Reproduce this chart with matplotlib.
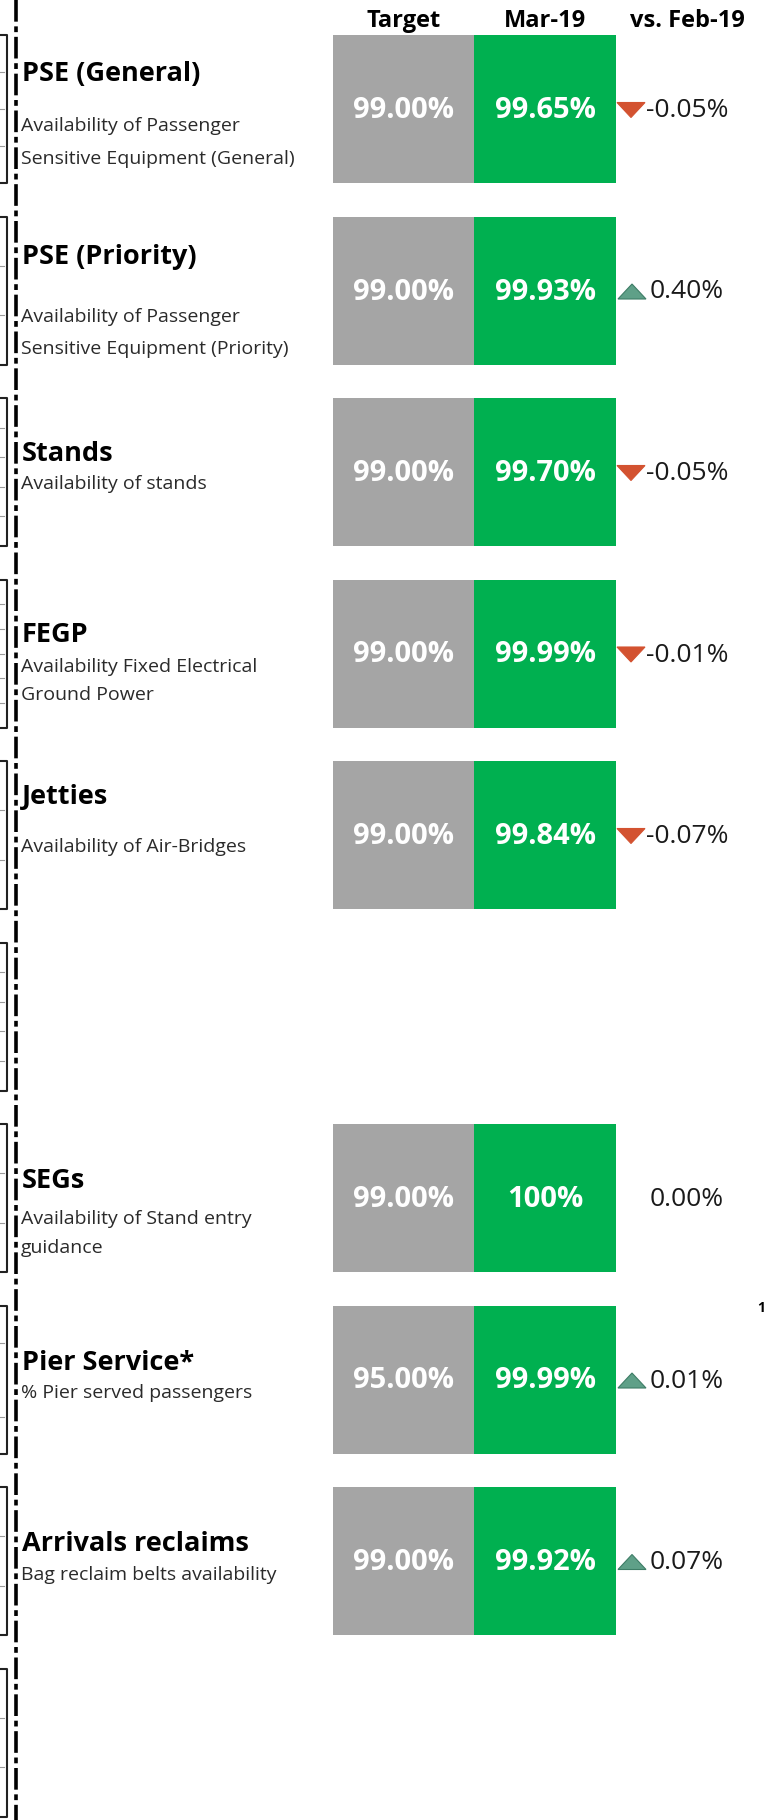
import matplotlib.pyplot as plt
from matplotlib.patches import Polygon

# metric rows (slot = row position on the page, slots 5 and 9 are empty)
titles = ['PSE (General)', 'PSE (Priority)', 'Stands', 'FEGP', 'Jetties',
          'SEGs', 'Pier Service*', 'Arrivals reclaims']
subtitles = [['Availability of Passenger', 'Sensitive Equipment (General)'],
             ['Availability of Passenger', 'Sensitive Equipment (Priority)'],
             ['Availability of stands'],
             ['Availability Fixed Electrical', 'Ground Power'],
             ['Availability of Air-Bridges'],
             ['Availability of Stand entry', 'guidance'],
             ['% Pier served passengers'],
             ['Bag reclaim belts availability']]
target = [99.00, 99.00, 99.00, 99.00, 99.00, 99.00, 95.00, 99.00]
mar19 = [99.65, 99.93, 99.70, 99.99, 99.84, 100.0, 99.99, 99.92]
vs_feb19 = [-0.05, 0.40, -0.05, -0.01, -0.07, 0.00, 0.01, 0.07]
headers = ['Target', 'Mar-19', 'vs. Feb-19']

slots = [0, 1, 2, 3, 4, 6, 7, 8]

# layout (pixels)
top0, pitch, box_h = 35, 181.5, 148
title_dy = [37, 38, 54, 54, 34, 55, 56, 55]
sub_dy = [89, 98, 84, 85, 84, 93, 86, 86]
sub_gap = [33, 32, 30, 29, 30, 29, 30, 30]
bracket_ticks = [[1/4, 2/4, 3/4], [1/3, 2/3], [i/5 for i in range(1, 5)],
                 [i/6 for i in range(1, 6)], [1/3, 2/3], [i/5 for i in range(1, 5)],
                 [1/3, 2/3], [1/4, 3/4], [1/3, 2/3], [1/3, 2/3]]

GRAY = '#A5A5A5'
GREEN = '#00B050'
DOWN = '#D35230'
UP = '#5FA088'

plt.rcParams['font.family'] = ['Open Sans', 'DejaVu Sans']

fig = plt.figure(figsize=(7.64, 18.2), dpi=100)
ax = fig.add_axes([0, 0, 1, 1])
ax.set_xlim(0, 764)
ax.set_ylim(1820, 0)
ax.axis('off')

# dash-dot divider
ax.plot([16, 16], [0, 1820], color='black', lw=2.6,
        dashes=(6.0, 1.3, 1.6, 1.3), solid_capstyle='butt')

# cropped brackets at the far left
for r in range(10):
    t = top0 + r * pitch
    b = t + box_h
    ax.plot([0, 7, 7, 0], [t, t, b, b], color='#222222', lw=1.5)
    for f in bracket_ticks[r]:
        yy = t + f * box_h
        ax.plot([0, 3.5], [yy, yy], color='#9A9A9A', lw=0.8)

# header
for x, h in zip([403.5, 545, 687], headers):
    ax.text(x, 27, h, ha='center', va='baseline', fontsize=17,
            fontweight='bold', color='black')

tops = [top0 + s * pitch for s in slots]
centers = [t + box_h / 2 for t in tops]

ax.barh(centers, 141, left=333, height=box_h, color=GRAY, edgecolor='none')
ax.barh(centers, 142, left=474, height=box_h, color=GREEN, edgecolor='none')

for i, t in enumerate(tops):
    # labels on the left
    ax.text(22, t + title_dy[i] + 9, titles[i], ha='left', va='baseline',
            fontsize=19.5, fontweight='bold', color='black')
    for j, line in enumerate(subtitles[i]):
        ax.text(21, t + sub_dy[i] + 7 + j * sub_gap[i], line, ha='left',
                va='baseline', fontsize=14, color='#2A2A2A')

    # box values
    ax.text(403.5, t + 83, f'{target[i]:.2f}%', ha='center', va='baseline',
            fontsize=21, fontweight='bold', color='white')
    m = mar19[i]
    lab = '100%' if m >= 100 else f'{m:.2f}%'
    ax.text(545, t + 83, lab, ha='center', va='baseline',
            fontsize=21, fontweight='bold', color='white')

    # change vs previous month
    d = vs_feb19[i]
    ax.text(687, t + 82, f'{d:.2f}%', ha='center', va='baseline',
            fontsize=19, color='#1A1A1A')
    cy = t + box_h / 2 + 1
    if d < 0:
        ax.add_patch(Polygon([[617, cy - 7.5], [645, cy - 7.5], [631, cy + 7.5]],
                             closed=True, facecolor=DOWN, edgecolor=DOWN, lw=0.8))
    elif d > 0:
        ax.add_patch(Polygon([[618, cy + 7.5], [646, cy + 7.5], [632, cy - 7.5]],
                             closed=True, facecolor=UP, edgecolor='#3E7D66', lw=0.8))

# cropped glyph at the right edge
ax.text(757, 1312, '1', ha='left', va='baseline', fontsize=10,
        fontweight='bold', color='black', clip_on=True)

fig.savefig('out.png', dpi=100)
